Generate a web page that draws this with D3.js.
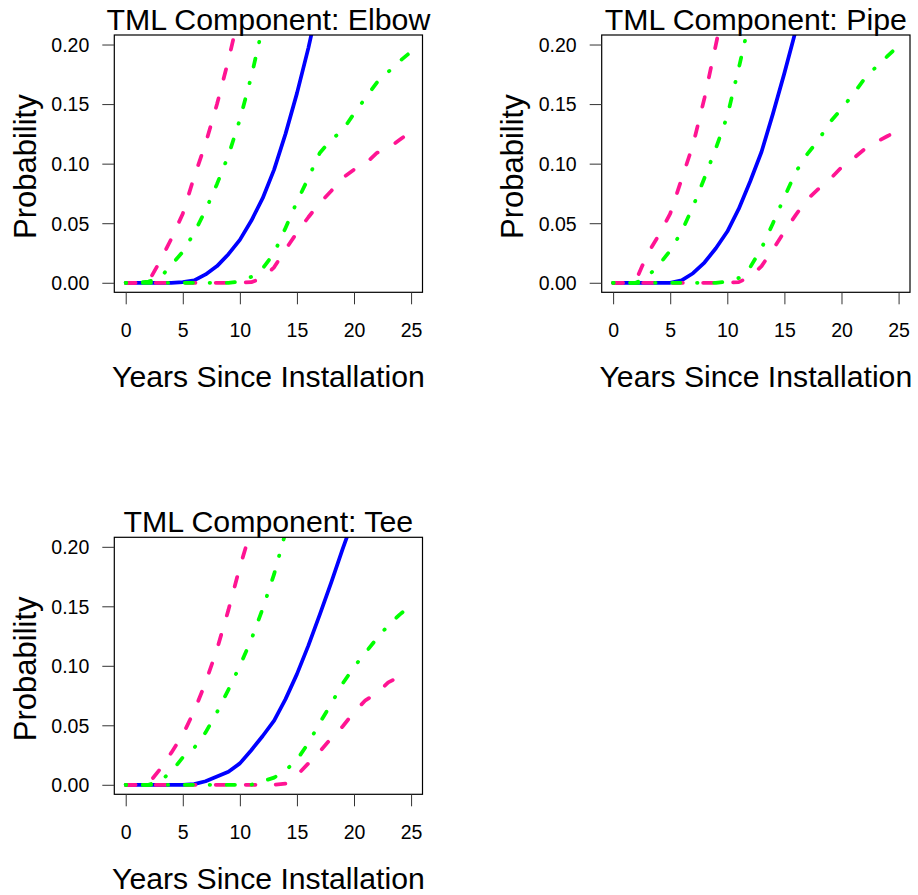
<!doctype html>
<html>
<head>
<meta charset="utf-8">
<style>
  body { margin: 0; background: #fff; }
  svg { display: block; font-family: 'Liberation Sans', Arial, sans-serif; }
  .tick text { font-size: 19.5px; fill: #000; }
  .tick line { stroke: #333; stroke-width: 1; }
  text.title { font-size: 30.3px; }
  text.xlab { font-size: 30.2px; }
  text.ylab { font-size: 31px; }
</style>
<script src="https://d3js.org/d3.v7.min.js"></script>
</head>
<body>
<svg width="918" height="895"></svg>
<script>
const years = d3.range(0, 26);
const xTicks = [0, 5, 10, 15, 20, 25];
const yTicks = [0, 0.05, 0.10, 0.15, 0.20];
const titles = ['TML Component: Elbow', 'TML Component: Pipe', 'TML Component: Tee'];

// Elbow
const elbowMedian     = [0,0,0,0,0,0.0005,0.002,0.007,0.014,0.024,0.036,0.052,0.071,0.095,0.125,0.159,0.197,0.24,null,null,null,null,null,null,null,null];
const elbowInnerUpper = [0,0,0.001,0.004,0.015,0.026,0.042,0.061,0.083,0.107,0.137,0.173,0.215,null,null,null,null,null,null,null,null,null,null,null,null,null];
const elbowOuterUpper = [0,0,0.001,0.018,0.037,0.058,0.089,0.117,0.150,0.187,0.228,null,null,null,null,null,null,null,null,null,null,null,null,null,null,null];
const elbowInnerLower = [0,0,0,0,0,0,0,0,0,0,0.001,0.005,0.012,0.025,0.046,0.068,0.088,0.109,0.120,0.128,0.142,0.155,0.168,0.177,0.186,0.194];
const elbowOuterLower = [0,0,0,0,0,0,0,0,0,0,0,0.0005,0.004,0.013,0.028,0.042,0.055,0.067,0.077,0.088,0.095,0.100,0.109,0.113,0.120,0.127];

// Pipe
const pipeMedian     = [0,0,0,0,0,0,0.002,0.008,0.017,0.029,0.043,0.062,0.085,0.110,0.142,0.176,0.212,null,null,null,null,null,null,null,null,null];
const pipeInnerUpper = [0,0,0,0.005,0.015,0.027,0.043,0.064,0.088,0.113,0.140,0.180,0.222,null,null,null,null,null,null,null,null,null,null,null,null,null];
const pipeOuterUpper = [0,0,0.002,0.024,0.040,0.058,0.087,0.116,0.155,0.200,0.245,null,null,null,null,null,null,null,null,null,null,null,null,null,null,null];
const pipeInnerLower = [0,0,0,0,0,0,0,0,0,0,0.001,0.004,0.013,0.029,0.050,0.072,0.093,0.108,0.120,0.135,0.146,0.158,0.171,0.181,0.190,0.199];
const pipeOuterLower = [0,0,0,0,0,0,0,0,0,0,0,0.0005,0.005,0.014,0.028,0.043,0.057,0.070,0.079,0.087,0.097,0.104,0.112,0.118,0.123,0.128];

// Tee
const teeMedian     = [0,0,0,0,0,0,0.0005,0.003,0.007,0.011,0.018,0.029,0.041,0.054,0.072,0.093,0.117,0.143,0.170,0.198,0.225,null,null,null,null,null];
const teeInnerUpper = [0,0,0,0.003,0.011,0.023,0.031,0.044,0.061,0.080,0.100,0.122,0.148,0.177,0.212,null,null,null,null,null,null,null,null,null,null,null];
const teeOuterUpper = [0,0,0.001,0.013,0.027,0.042,0.062,0.086,0.114,0.147,0.183,0.215,null,null,null,null,null,null,null,null,null,null,null,null,null,null];
const teeInnerLower = [0,0,0,0,0,0,0,0,0,0,0,0,0.003,0.006,0.012,0.021,0.035,0.052,0.068,0.085,0.099,0.111,0.123,0.134,0.143,0.151];
const teeOuterLower = [0,0,0,0,0,0,0,0,0,0,0,0,0,0,0.001,0.008,0.018,0.028,0.039,0.049,0.061,0.071,0.077,0.086,0.091,0.094];

const panels = [
  { title: titles[0], left: 114.3, top: 35, w: 308.2, h: 257.3,
    series: [elbowMedian, elbowOuterLower, elbowOuterUpper, elbowInnerLower, elbowInnerUpper] },
  { title: titles[1], left: 601.7, top: 35, w: 308.3, h: 257.3,
    series: [pipeMedian, pipeOuterLower, pipeOuterUpper, pipeInnerLower, pipeInnerUpper] },
  { title: titles[2], left: 114.3, top: 537.3, w: 308.2, h: 257,
    series: [teeMedian, teeOuterLower, teeOuterUpper, teeInnerLower, teeInnerUpper] }
];

// median, outer band x2, inner band x2
const styles = [
  { color: '#0000ff', dash: null },
  { color: '#ff1493', dash: '9.75,20.25' },
  { color: '#ff1493', dash: '9.75,20.25' },
  { color: '#00ff00', dash: '0.5,16.6,8.25,16.6' },
  { color: '#00ff00', dash: '0.5,16.6,8.25,16.6' }
];

const svg = d3.select('svg');

panels.forEach((p, pi) => {
  const x = d3.scaleLinear().domain([-1, 26]).range([p.left, p.left + p.w]);
  const y = d3.scaleLinear().domain([-0.008, 0.208]).range([p.top + p.h, p.top]);

  const clipId = 'clip' + pi;
  svg.append('clipPath').attr('id', clipId)
    .append('rect')
    .attr('x', p.left).attr('y', p.top)
    .attr('width', p.w).attr('height', p.h);

  const line = d3.line()
    .defined(d => d[1] != null)
    .x(d => x(d[0]))
    .y(d => y(d[1]));

  const g = svg.append('g').attr('clip-path', `url(#${clipId})`);
  p.series.forEach((s, i) => {
    g.append('path')
      .datum(years.map((t, j) => [t, s[j]]))
      .attr('d', line)
      .attr('fill', 'none')
      .attr('stroke', styles[i].color)
      .attr('stroke-width', 3.75)
      .attr('stroke-linecap', 'round')
      .attr('stroke-linejoin', 'round')
      .attr('stroke-dasharray', styles[i].dash);
  });

  // box
  svg.append('rect')
    .attr('x', p.left).attr('y', p.top)
    .attr('width', p.w).attr('height', p.h)
    .attr('fill', 'none').attr('stroke', '#000').attr('stroke-width', 1.2);

  // x axis (ticks only)
  const xa = svg.append('g')
    .attr('transform', `translate(0, ${p.top + p.h})`)
    .call(d3.axisBottom(x).tickValues(xTicks).tickSize(12).tickPadding(0).tickFormat(d3.format('d')));
  xa.select('.domain').remove();
  xa.selectAll('.tick text').attr('dy', null).attr('y', 44.5).style('text-anchor', 'middle');

  // y axis (ticks only)
  const ya = svg.append('g')
    .attr('transform', `translate(${p.left}, 0)`)
    .call(d3.axisLeft(y).tickValues(yTicks).tickSize(12).tickFormat(d3.format('.2f')));
  ya.select('.domain').remove();
  ya.selectAll('.tick text').attr('x', -25).attr('dy', '0.35em');

  svg.append('text').attr('class', 'title')
    .attr('x', p.left + p.w / 2).attr('y', p.top - 5.5)
    .attr('text-anchor', 'middle')
    .text(p.title);

  svg.append('text').attr('class', 'xlab')
    .attr('x', p.left + p.w / 2).attr('y', p.top + p.h + 94.5)
    .attr('text-anchor', 'middle')
    .text('Years Since Installation');

  svg.append('text').attr('class', 'ylab')
    .attr('transform', `translate(${p.left - 78.6}, ${p.top + p.h / 2 + 3}) rotate(-90)`)
    .attr('text-anchor', 'middle')
    .text('Probability');
});
</script>
</body>
</html>
